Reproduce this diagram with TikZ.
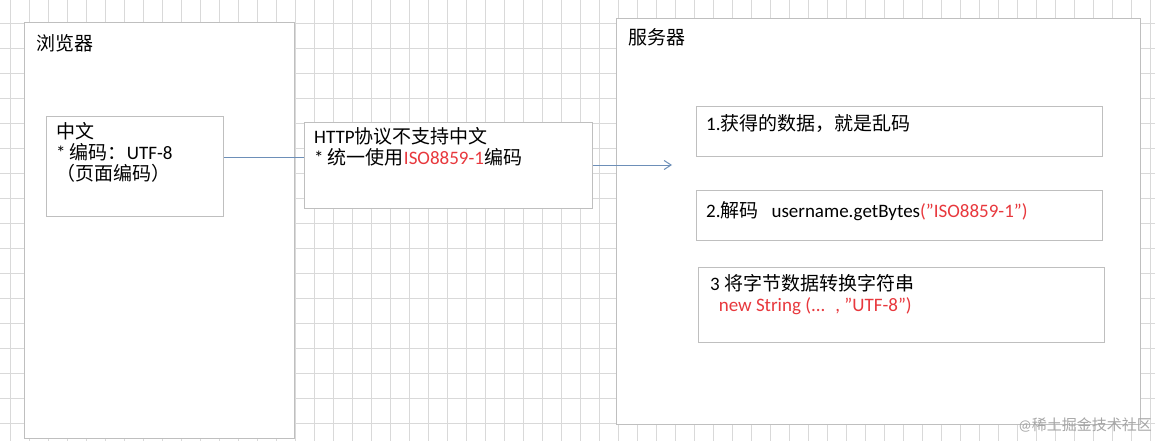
\documentclass[tikz,border=0pt]{standalone}
\usepackage{fontspec}
\usetikzlibrary{arrows.meta}
\setmainfont{Carlito}
\newfontfamily\cjk{Noto Sans CJK SC}
\newcommand\dq{\symbol{34}}
\definecolor{gridc}{HTML}{D9D9D9}
\definecolor{boxc}{HTML}{BFBFBF}
\definecolor{redt}{HTML}{E8383D}
\definecolor{linec}{HTML}{6D8FB8}
\begin{document}
\begin{tikzpicture}[x=1pt,y=-1pt,
  panel/.style={draw=boxc,fill=white,line width=1pt},
  lbl/.style={anchor=north west,inner sep=0pt,font=\fontsize{19}{23}\selectfont,align=left}]
\useasboundingbox (0,0) rectangle (1155,441);
\fill[white] (0,0) rectangle (1155,441);
\foreach \x in {10,29,...,1155} \draw[gridc,line width=0.8pt] (\x,0) -- (\x,441);
\foreach \y in {23,48,...,441} \draw[gridc,line width=0.8pt] (0,\y) -- (1155,\y);
% browser
\node[panel,minimum width=270,minimum height=416,anchor=north west] (browser) at (24,22) {};
\node[lbl] (bt) at (36,34) {\cjk 浏览器};
\node[panel,minimum width=177,minimum height=100,anchor=north west] (cn) at (46,116) {};
\node[lbl] (cnt) at (56,122) {{\cjk 中文}\\[-2pt]* {\cjk 编码：}UTF-8\\[-2pt]{\cjk （页面编码）}};
% http
\node[panel,minimum width=288,minimum height=86,anchor=north west] (http) at (304,122) {};
\node[lbl] (httpt) at (314,127) {HTTP{\cjk 协议不支持中文}\\[-2pt]* {\cjk 统一使用}\textcolor{redt}{ISO8859-1}{\cjk 编码}};
% server
\node[panel,minimum width=524,minimum height=406,anchor=north west] (server) at (616,18) {};
\node[lbl] (st) at (628,28) {\cjk 服务器};
\node[panel,minimum width=406,minimum height=50,anchor=north west] (b1) at (696,106) {};
\node[lbl] (b1t) at (706,114) {1.{\cjk 获得的数据，就是乱码}};
\node[panel,minimum width=406,minimum height=50,anchor=north west] (b2) at (696,190) {};
\node[lbl] (b2t) at (706,201) {2.{\cjk 解码}\ \ \ username.getBytes\textcolor{redt}{(\dq ISO8859-1\dq)}};
\node[panel,minimum width=406,minimum height=75,anchor=north west] (b3) at (698,267) {};
\node[lbl] (b3t) at (710,274) {3 {\cjk 将字节数据转换字符串}\\[-2pt]\ \ \textcolor{redt}{new String (... \ , \dq UTF-8\dq)}};
% connectors
\coordinate (arr) at (672,165);
\draw[linec,line width=1pt] (cn.east |- 0,157) -- (http.west |- 0,157);
\draw[linec,line width=1pt,-{Straight Barb[length=7pt,width=9pt]}] (http.east |- arr) -- (arr);
% watermark
\node[anchor=east,inner sep=0pt,text=gray!70,font=\fontsize{15}{18}\selectfont] (wm) at (1152,425) {@{\cjk 稀土掘金技术社区}};
\end{tikzpicture}
\end{document}
